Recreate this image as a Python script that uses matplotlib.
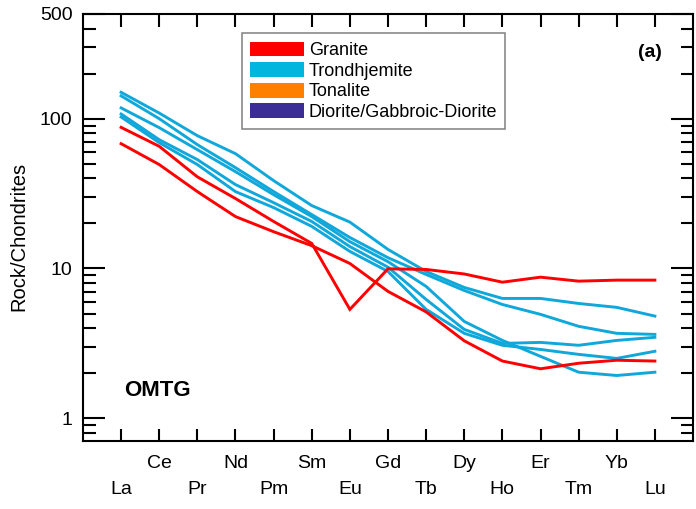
import matplotlib.pyplot as plt
from matplotlib.patches import Patch
from matplotlib.ticker import NullFormatter, FixedLocator, LogLocator

plt.rcParams['font.family'] = ['Liberation Sans', 'DejaVu Sans']

ree = ['La', 'Ce', 'Pr', 'Nd', 'Pm', 'Sm', 'Eu', 'Gd', 'Tb', 'Dy', 'Ho', 'Er', 'Tm', 'Yb', 'Lu']

# chondrite-normalised values
granite_1 = [87.5, 65.4, 40.9, 29.3, 20.6, 14.7, 5.33, 9.95, 9.85, 9.19, 8.10, 8.75, 8.23, 8.36, 8.36]
granite_2 = [68.1, 49.4, 32.6, 22.2, 17.6, 14.2, 10.8, 7.03, 5.13, 3.29, 2.41, 2.14, 2.33, 2.44, 2.41]

trond_1 = [150, 109, 77.0, 58.4, 38.6, 26.3, 20.4, 13.4, 9.55, 7.47, 6.31, 6.31, 5.84, 5.50, 4.81]
trond_2 = [142, 100, 67.1, 47.1, 32.6, 22.9, 16.1, 11.8, 9.12, 7.13, 5.75, 4.94, 4.11, 3.69, 3.63]
trond_3 = [118, 87.1, 62.1, 44.3, 31.1, 22.2, 15.1, 11.1, 7.59, 4.43, 3.31, 2.59, 2.03, 1.93, 2.03]
trond_4 = [107.5, 72.4, 53.3, 36.3, 27.5, 20.6, 14.0, 10.2, 6.21, 3.92, 3.16, 3.21, 3.07, 3.31, 3.47]
trond_5 = [102.6, 69.2, 49.4, 32.6, 25.5, 19.1, 13.0, 9.55, 5.33, 3.69, 3.07, 2.88, 2.67, 2.51, 2.80]

legend_names = ['Granite', 'Trondhjemite', 'Tonalite', 'Diorite/Gabbroic-Diorite']
legend_colors = ['#FF0000', '#00B6DE', '#FF8000', '#3B2C96']

y_ticks = [1, 10, 100, 500]

red = '#FF0000'
blue = '#10A7DA'

fig = plt.figure(figsize=(6.96, 5.09), dpi=100)
ax = fig.add_axes([83 / 696, 1 - 441 / 509, 610 / 696, 427 / 509])

x = list(range(len(ree)))
for s in [trond_1, trond_2, trond_3, trond_4, trond_5]:
    ax.plot(x, s, color=blue, lw=2.1, solid_joinstyle='miter')
for s in [granite_1, granite_2]:
    ax.plot(x, s, color=red, lw=2.1, solid_joinstyle='miter')

ax.set_yscale('log')
ax.set_ylim(0.705, 500)
ax.set_xlim(-1, len(ree))

ax.yaxis.set_major_locator(FixedLocator(y_ticks))
ax.yaxis.set_minor_locator(LogLocator(base=10, subs=range(2, 10)))
ax.yaxis.set_minor_formatter(NullFormatter())
ax.set_yticklabels([str(v) for v in y_ticks])

ax.set_xticks(x)
ax.set_xticklabels(ree)
ax.xaxis.set_minor_locator(FixedLocator([]))

for sp in ax.spines.values():
    sp.set_linewidth(1.5)

ax.tick_params(which='both', direction='in', top=True, right=True, width=1.5,
               labelsize=14, colors='black')
ax.tick_params(axis='y', which='major', length=16, pad=7.5)
ax.tick_params(axis='y', which='minor', length=9)
ax.tick_params(axis='x', which='major', length=9, pad=10)

# two staggered rows of element labels
for i, t in enumerate(ax.xaxis.get_major_ticks()):
    if i % 2 == 0:
        t.set_pad(29)

ax.set_ylabel('Rock/Chondrites', fontsize=14.5)
ax.yaxis.set_label_coords(-0.09, 0.48)

ax.text(0.949, 0.911, '(a)', transform=ax.transAxes, ha='right', va='center',
        fontsize=14, fontweight='bold')
ax.text(0.067, 0.119, 'OMTG', transform=ax.transAxes, ha='left', va='center',
        fontsize=16, fontweight='bold')

handles = [Patch(facecolor=c, edgecolor='none') for c in legend_colors]
leg = ax.legend(handles, legend_names, loc='upper left',
                bbox_to_anchor=(241.7 / 696, 1 - 33.3 / 509), bbox_transform=fig.transFigure,
                fontsize=13, handlelength=3.0, handleheight=0.89, handletextpad=0.25,
                labelspacing=0.16, borderpad=0.46, borderaxespad=0,
                fancybox=False, framealpha=1, edgecolor='#808080')
leg.get_frame().set_linewidth(1.1)

fig.savefig('out.png', dpi=100)
